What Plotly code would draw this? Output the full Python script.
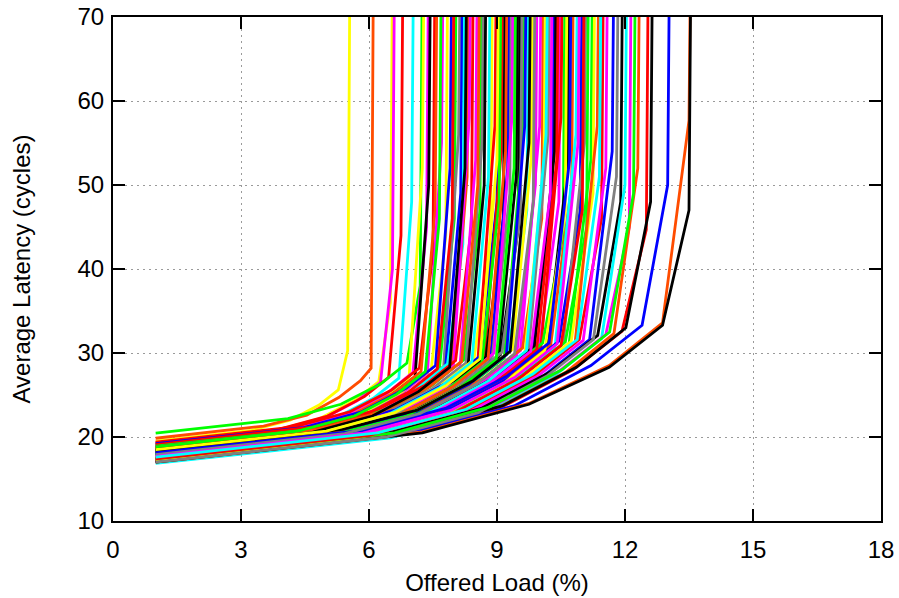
import plotly.graph_objects as go

# Axis ticks
x_ticks = [0, 3, 6, 9, 12, 15, 18]
y_ticks = [10, 20, 30, 40, 50, 60, 70]

# Offered load (%) points of every curve
curve_loads = [
    [1, 3.25, 4.15, 4.83, 5.28, 5.5, 5.58],
    [1, 3.53, 4.54, 5.29, 5.80, 6.05, 6.13],
    [1, 3.75, 4.85, 5.68, 6.23, 6.5, 6.58],
    [1, 3.78, 4.89, 5.72, 6.27, 6.55, 6.63],
    [1, 3.88, 5.03, 5.89, 6.46, 6.75, 6.83],
    [1, 4.0, 5.2, 6.1, 6.7, 7.0, 7.08],
    [1, 4.1, 5.34, 6.27, 6.89, 7.2, 7.28],
    [1, 4.13, 5.38, 6.31, 6.94, 7.25, 7.33],
    [1, 4.18, 5.45, 6.40, 7.03, 7.35, 7.43],
    [1, 4.2, 5.48, 6.44, 7.08, 7.4, 7.48],
    [1, 4.25, 5.55, 6.53, 7.18, 7.5, 7.58],
    [1, 4.28, 5.59, 6.57, 7.22, 7.55, 7.63],
    [1, 4.35, 5.69, 6.70, 7.37, 7.7, 7.78],
    [1, 4.4, 5.76, 6.78, 7.46, 7.8, 7.88],
    [1, 4.45, 5.83, 6.87, 7.56, 7.9, 7.98],
    [1, 4.5, 5.9, 6.95, 7.65, 8.0, 8.08],
    [1, 4.55, 5.97, 7.04, 7.75, 8.1, 8.18],
    [1, 4.58, 6.01, 7.08, 7.79, 8.15, 8.23],
    [1, 4.6, 6.04, 7.12, 7.84, 8.2, 8.28],
    [1, 4.65, 6.11, 7.21, 7.94, 8.3, 8.38],
    [1, 4.68, 6.15, 7.25, 7.98, 8.35, 8.43],
    [1, 4.7, 6.18, 7.29, 8.03, 8.4, 8.48],
    [1, 4.75, 6.25, 7.38, 8.13, 8.5, 8.58],
    [1, 4.8, 6.32, 7.46, 8.22, 8.6, 8.68],
    [1, 4.83, 6.36, 7.50, 8.27, 8.65, 8.73],
    [1, 4.85, 6.39, 7.55, 8.32, 8.7, 8.78],
    [1, 4.93, 6.50, 7.67, 8.46, 8.85, 8.93],
    [1, 4.98, 6.57, 7.76, 8.55, 8.95, 9.03],
    [1, 5.0, 6.6, 7.8, 8.6, 9.0, 9.08],
    [1, 5.05, 6.67, 7.89, 8.70, 9.1, 9.18],
    [1, 5.08, 6.71, 7.93, 8.74, 9.15, 9.23],
    [1, 5.13, 6.78, 8.01, 8.84, 9.25, 9.33],
    [1, 5.15, 6.81, 8.06, 8.89, 9.3, 9.38],
    [1, 5.18, 6.85, 8.10, 8.93, 9.35, 9.43],
    [1, 5.23, 6.92, 8.18, 9.03, 9.45, 9.53],
    [1, 5.25, 6.95, 8.23, 9.08, 9.5, 9.58],
    [1, 5.3, 7.02, 8.31, 9.17, 9.6, 9.68],
    [1, 5.35, 7.09, 8.40, 9.27, 9.7, 9.78],
    [1, 5.4, 7.16, 8.48, 9.36, 9.8, 9.88],
    [1, 5.45, 7.23, 8.57, 9.46, 9.9, 9.98],
    [1, 5.5, 7.3, 8.65, 9.55, 10.0, 10.08],
    [1, 5.53, 7.34, 8.69, 9.60, 10.05, 10.13],
    [1, 5.55, 7.37, 8.74, 9.65, 10.1, 10.18],
    [1, 5.6, 7.44, 8.82, 9.74, 10.2, 10.28],
    [1, 5.65, 7.51, 8.91, 9.84, 10.3, 10.38],
    [1, 5.68, 7.55, 8.95, 9.88, 10.35, 10.43],
    [1, 5.73, 7.62, 9.03, 9.98, 10.45, 10.53],
    [1, 5.75, 7.65, 9.08, 10.03, 10.5, 10.58],
    [1, 5.78, 7.69, 9.12, 10.07, 10.55, 10.63],
    [1, 5.83, 7.76, 9.20, 10.17, 10.65, 10.73],
    [1, 5.88, 7.83, 9.29, 10.26, 10.75, 10.83],
    [1, 5.93, 7.90, 9.37, 10.36, 10.85, 10.93],
    [1, 5.98, 7.97, 9.46, 10.45, 10.95, 11.03],
    [1, 6.03, 8.04, 9.54, 10.55, 11.05, 11.13],
    [1, 6.05, 8.07, 9.59, 10.60, 11.1, 11.18],
    [1, 6.1, 8.14, 9.67, 10.69, 11.2, 11.28],
    [1, 6.13, 8.18, 9.71, 10.74, 11.25, 11.33],
    [1, 6.18, 8.25, 9.80, 10.83, 11.35, 11.43],
    [1, 6.23, 8.32, 9.88, 10.93, 11.45, 11.53],
    [1, 6.28, 8.39, 9.97, 11.02, 11.55, 11.63],
    [1, 6.35, 8.49, 10.10, 11.17, 11.7, 11.78],
    [1, 6.45, 8.63, 10.27, 11.36, 11.9, 11.98],
    [1, 6.5, 8.7, 10.35, 11.45, 12.0, 12.08],
    [1, 6.55, 8.77, 10.44, 11.55, 12.1, 12.18],
    [1, 6.65, 8.91, 10.61, 11.74, 12.3, 12.38],
    [1, 6.75, 9.05, 10.78, 11.93, 12.5, 12.58],
    [1, 6.8, 9.12, 10.86, 12.02, 12.6, 12.68],
    [1, 7.0, 9.4, 11.2, 12.4, 13.0, 13.08],
    [1, 7.25, 9.75, 11.63, 12.88, 13.5, 13.58],
    [1, 7.25, 9.75, 11.63, 12.88, 13.5, 13.58],
    [1, 5.28, 6.99, 8.27, 9.12, 9.55, 9.63],
    [1, 5.58, 7.41, 8.78, 9.69, 10.15, 10.23],
    [1, 5.03, 6.64, 7.84, 8.65, 9.05, 9.13],
    [1, 4.9, 6.46, 7.63, 8.41, 8.8, 8.88],
    [1, 5.8, 7.72, 9.16, 10.12, 10.6, 10.68],
    [1, 6.4, 8.56, 10.18, 11.26, 11.8, 11.88],
    [1, 5.1, 6.74, 7.97, 8.79, 9.2, 9.28],
    [1, 4.48, 5.87, 6.91, 7.60, 7.95, 8.03],
    [1, 6.6, 8.84, 10.52, 11.64, 12.2, 12.28],
    [1, 5.7, 7.58, 8.99, 9.93, 10.4, 10.48],
    [1, 5.33, 7.06, 8.35, 9.22, 9.65, 9.73],
    [1, 4.78, 6.29, 7.42, 8.17, 8.55, 8.63],
    [1, 5.2, 6.88, 8.14, 8.98, 9.4, 9.48],
    [1, 5.38, 7.13, 8.44, 9.31, 9.75, 9.83],
    [1, 5.63, 7.48, 8.86, 9.79, 10.25, 10.33],
    [1, 5.85, 7.79, 9.25, 10.22, 10.7, 10.78],
    [1, 6.0, 8.0, 9.5, 10.5, 11.0, 11.08],
    [1, 4.33, 5.66, 6.65, 7.32, 7.65, 7.73],
    [1, 4.63, 6.08, 7.16, 7.89, 8.25, 8.33],
    [1, 5.43, 7.2, 8.52, 9.41, 9.85, 9.93],
    [1, 5.95, 7.93, 9.42, 10.41, 10.9, 10.98],
    [1, 6.2, 8.28, 9.84, 10.88, 11.4, 11.48],
    [1, 5.0, 6.6, 7.8, 8.6, 9.0, 9.08],
]

# Average latency (cycles) at those points
curve_latencies = [
    [19.5, 20.8, 22.0, 23.8, 25.6, 30.3, 100],
    [19.85, 21.3, 22.6, 24.7, 26.7, 28.2, 100],
    [19.2, 20.7, 22.2, 24.4, 26.6, 36.0, 100],
    [19.0, 20.6, 22.1, 24.3, 26.5, 40.0, 100],
    [19.3, 20.9, 22.5, 24.8, 27.1, 44.0, 100],
    [18.9, 20.6, 22.2, 24.6, 27.0, 48.0, 100],
    [20.45, 22.2, 23.9, 26.3, 28.8, 38.0, 100],
    [18.7, 20.5, 22.1, 24.6, 27.1, 52.0, 100],
    [19.1, 20.9, 22.6, 25.1, 27.7, 45.0, 100],
    [18.6, 20.4, 22.1, 24.7, 27.2, 50.0, 100],
    [19.4, 21.2, 23.0, 25.6, 28.2, 42.0, 100],
    [19.0, 20.8, 22.6, 25.2, 27.8, 47.0, 100],
    [18.5, 20.4, 22.2, 24.9, 27.6, 55.0, 100],
    [18.9, 20.8, 22.6, 25.4, 28.1, 44.0, 100],
    [19.2, 21.1, 23.0, 25.8, 28.5, 52.0, 100],
    [18.6, 20.6, 22.5, 25.3, 28.1, 46.0, 100],
    [18.8, 20.8, 22.7, 25.6, 28.4, 56.0, 100],
    [18.4, 20.4, 22.3, 25.2, 28.1, 49.0, 100],
    [19.0, 21.0, 23.0, 25.8, 28.7, 43.0, 100],
    [18.3, 20.3, 22.3, 25.2, 28.2, 51.0, 100],
    [18.7, 20.8, 22.7, 25.7, 28.6, 58.0, 100],
    [19.1, 21.2, 23.2, 26.1, 29.1, 45.0, 100],
    [18.2, 20.3, 22.3, 25.3, 28.3, 53.0, 100],
    [18.9, 21.0, 23.1, 26.1, 29.2, 47.0, 100],
    [18.5, 20.6, 22.7, 25.8, 28.8, 55.0, 100],
    [18.0, 20.2, 22.2, 25.3, 28.4, 50.0, 100],
    [18.6, 20.8, 22.9, 26.1, 29.2, 44.0, 100],
    [18.3, 20.5, 22.7, 25.9, 29.0, 57.0, 100],
    [18.8, 21.0, 23.2, 26.4, 29.6, 48.0, 100],
    [18.1, 20.4, 22.6, 25.8, 29.0, 54.0, 100],
    [18.5, 20.8, 23.0, 26.2, 29.5, 46.0, 100],
    [17.9, 20.2, 22.4, 25.7, 29.0, 52.0, 100],
    [18.4, 20.7, 23.0, 26.3, 29.6, 49.0, 100],
    [18.7, 21.0, 23.3, 26.6, 30.0, 58.0, 100],
    [18.0, 20.4, 22.7, 26.0, 29.4, 51.0, 100],
    [18.3, 20.7, 23.0, 26.4, 29.8, 45.0, 100],
    [17.8, 20.2, 22.5, 26.0, 29.4, 55.0, 100],
    [18.2, 20.6, 23.0, 26.5, 30.0, 47.0, 100],
    [18.5, 21.0, 23.3, 26.9, 30.4, 53.0, 100],
    [17.7, 20.2, 22.6, 26.2, 29.7, 50.0, 100],
    [18.1, 20.6, 23.1, 26.7, 30.3, 57.0, 100],
    [18.4, 20.9, 23.4, 27.0, 30.6, 46.0, 100],
    [17.6, 20.2, 22.6, 26.3, 29.9, 52.0, 100],
    [18.0, 20.6, 23.1, 26.7, 30.4, 56.0, 100],
    [17.8, 20.4, 22.9, 26.6, 30.4, 49.0, 100],
    [18.2, 20.8, 23.3, 27.1, 30.8, 54.0, 100],
    [17.5, 20.2, 22.7, 26.5, 30.3, 48.0, 100],
    [17.9, 20.6, 23.1, 26.9, 30.7, 58.0, 100],
    [18.3, 21.0, 23.6, 27.4, 31.2, 44.0, 100],
    [17.6, 20.3, 22.9, 26.8, 30.6, 52.0, 100],
    [17.8, 20.5, 23.2, 27.1, 31.0, 50.0, 100],
    [17.4, 20.2, 22.8, 26.8, 30.7, 56.0, 100],
    [18.0, 20.8, 23.5, 27.5, 31.4, 47.0, 100],
    [17.5, 20.3, 23.0, 27.1, 31.1, 55.0, 100],
    [17.7, 20.5, 23.3, 27.3, 31.3, 45.0, 100],
    [17.3, 20.2, 22.9, 27.0, 31.1, 53.0, 100],
    [17.6, 20.5, 23.2, 27.3, 31.4, 49.0, 100],
    [17.2, 20.1, 22.9, 27.0, 31.2, 57.0, 100],
    [17.5, 20.4, 23.3, 27.4, 31.6, 46.0, 100],
    [17.3, 20.3, 23.1, 27.3, 31.5, 52.0, 100],
    [17.1, 20.1, 23.0, 27.3, 31.6, 54.0, 100],
    [17.4, 20.5, 23.4, 27.8, 32.1, 48.0, 100],
    [16.85, 19.9, 22.9, 27.3, 31.7, 50.0, 100],
    [17.2, 20.3, 23.3, 27.8, 32.2, 45.0, 100],
    [17.0, 20.2, 23.2, 27.7, 32.3, 52.0, 100],
    [17.1, 20.3, 23.4, 28.0, 32.6, 44.7, 100],
    [17.3, 20.6, 23.7, 28.3, 33.0, 48.0, 100],
    [17.1, 20.5, 23.7, 28.5, 33.3, 50.0, 100],
    [17.1, 20.6, 24.0, 28.5, 33.6, 57.7, 100],
    [17.0, 20.5, 23.9, 28.3, 33.3, 47.0, 100],
    [18.6, 21.0, 23.3, 26.7, 30.1, 47.0, 100],
    [17.9, 20.5, 22.9, 26.6, 30.3, 56.0, 100],
    [18.0, 20.3, 22.4, 25.7, 28.9, 48.0, 100],
    [18.4, 20.6, 22.7, 25.8, 28.9, 51.0, 100],
    [17.3, 20.0, 22.6, 26.4, 30.3, 47.0, 100],
    [17.0, 20.0, 22.9, 27.3, 31.6, 51.0, 100],
    [18.2, 20.5, 22.7, 26.0, 29.3, 54.0, 100],
    [18.7, 20.7, 22.5, 25.3, 28.1, 46.0, 100],
    [17.4, 20.5, 23.6, 28.0, 32.5, 49.0, 100],
    [17.7, 20.3, 22.9, 26.6, 30.4, 53.0, 100],
    [18.1, 20.5, 22.9, 26.3, 29.8, 57.0, 100],
    [18.8, 20.9, 23.0, 26.0, 29.0, 50.0, 100],
    [17.9, 20.3, 22.5, 25.9, 29.2, 52.0, 100],
    [18.4, 20.9, 23.2, 26.7, 30.2, 55.0, 100],
    [17.7, 20.3, 22.8, 26.5, 30.2, 49.0, 100],
    [18.1, 20.8, 23.4, 27.3, 31.2, 53.0, 100],
    [17.4, 20.2, 22.9, 26.9, 30.9, 47.0, 100],
    [18.8, 20.7, 22.5, 25.1, 27.8, 46.0, 100],
    [18.5, 20.5, 22.5, 25.4, 28.3, 52.0, 100],
    [17.9, 20.4, 22.8, 26.3, 29.9, 48.0, 100],
    [17.7, 20.5, 23.2, 27.1, 31.1, 55.0, 100],
    [17.6, 20.5, 23.3, 27.5, 31.6, 51.0, 100],
    [18.5, 20.7, 22.9, 26.1, 29.3, 53.0, 100],
]

# Line colour of every curve (style, gnuplot-like colour names)
curve_colors = [
    "yellow", "orange", "yellow", "magenta", "red", "cyan", "green", "yellow", "magenta",
    "black", "red", "orange", "magenta", "yellow", "blue", "green", "gray", "blue",
    "cyan", "orange", "magenta", "red", "magenta", "green", "gray", "black", "yellow",
    "red", "blue", "red", "black", "blue", "gray", "magenta", "black", "black",
    "green", "cyan", "yellow", "magenta", "magenta", "orange", "yellow", "gray", "blue",
    "black", "magenta", "red", "green", "black", "orange", "cyan", "blue", "gray",
    "green", "green", "yellow", "orange", "red", "magenta", "blue", "black", "cyan",
    "magenta", "orange", "red", "black", "blue", "orange", "black", "gray", "cyan",
    "green", "cyan", "yellow", "gray", "orange", "red", "green", "red", "blue",
    "orange", "green", "black", "magenta", "blue", "red", "green", "black", "gray",
    "magenta", "cyan", "yellow",
]

palette = {
    "red": "#ff0000", "green": "#00ff00", "blue": "#0000ff", "magenta": "#ff00ff",
    "cyan": "#00ffff", "yellow": "#ffff00", "black": "#000000", "orange": "#ff4c00",
    "gray": "#808080",
}

fig = go.Figure()
for xs, ys, c in zip(curve_loads, curve_latencies, curve_colors):
    fig.add_trace(go.Scatter(
        x=xs, y=ys, mode="lines",
        line=dict(color=palette[c], width=2.8),
        showlegend=False, hoverinfo="skip",
    ))

font_family = "Liberation Sans, Arial, Helvetica, sans-serif"
axis_common = dict(
    showline=True, linecolor="black", linewidth=2, mirror="ticks",
    ticks="inside", ticklen=12, tickwidth=2, tickcolor="black",
    showgrid=True, gridcolor="#9a9a9a", gridwidth=1, griddash="2px,4px",
    zeroline=False, automargin=False,
    tickfont=dict(family=font_family, size=24, color="black"),
)

fig.update_xaxes(
    range=[0, 18], tickvals=x_ticks, ticktext=[str(v) for v in x_ticks],
    ticklabelstandoff=6,
    title=dict(text="Offered Load (%)", font=dict(family=font_family, size=24, color="black"), standoff=12),
    **axis_common,
)
fig.update_yaxes(
    range=[10, 70], tickvals=y_ticks, ticktext=[str(v) for v in y_ticks],
    ticklabelstandoff=2,
    title=dict(text="Average Latency (cycles)", font=dict(family=font_family, size=24, color="black"), standoff=40),
    **axis_common,
)

fig.update_layout(
    width=899, height=598,
    margin=dict(l=113, r=18, t=17, b=77),
    plot_bgcolor="white", paper_bgcolor="white",
)

fig.write_html(
    "out.html",
    config={"displayModeBar": False, "staticPlot": True},
    post_script="document.body.style.margin='0px';document.body.style.overflow='hidden';",
)
